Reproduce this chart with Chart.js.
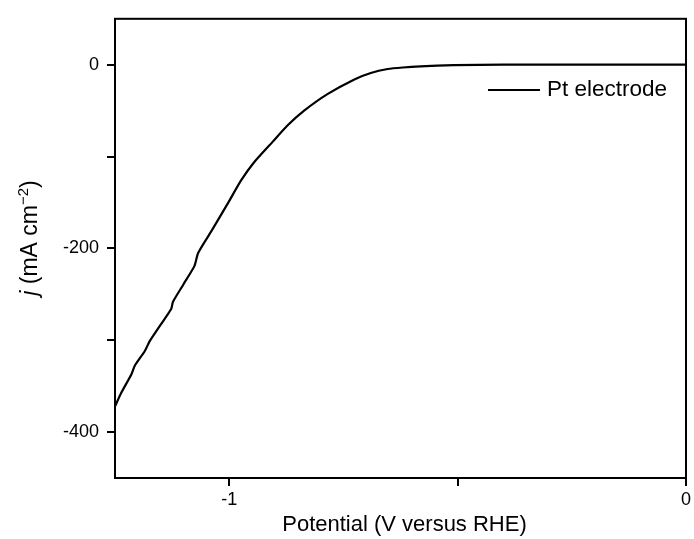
<!DOCTYPE html>
<html>
<head>
<meta charset="utf-8">
<script src="https://cdn.jsdelivr.net/npm/chart.js@4.4.1/dist/chart.umd.min.js"></script>
<style>
  html, body { margin: 0; padding: 0; background: #fff; }
  #wrap { width: 694px; height: 539px; }
</style>
</head>
<body>
<div id="wrap"><canvas id="lsvChart"></canvas></div>
<script>
// LSV curve (V versus RHE, mA cm-2)
const potential = [-1.25, -1.236, -1.214, -1.207, -1.185, -1.174, -1.15, -1.127, -1.123, -1.10, -1.076, -1.068,
  -1.04, -1.003, -0.974, -0.945, -0.905, -0.872, -0.836, -0.785, -0.726, -0.69, -0.653, -0.62, -0.581, -0.508,
  -0.4, -0.2, 0];
const currentDensity = [-372, -357, -337, -328, -312, -301, -283, -266, -258, -239, -219, -205,
  -182, -151, -126, -106, -84, -66, -50, -32, -16, -9, -4.7, -3, -1.8, -0.5,
  0, 0, 0];

const xTickValues = [-1, -0.5, 0];
const xTickLabels = ['-1', '', '0'];
const yTickValues = [-400, -300, -200, -100, 0];
const yTickLabels = ['-400', '', '-200', '', '0'];

const seriesName = 'Pt electrode';
const FONT = '"Liberation Sans", Arial, sans-serif';

const points = potential.map((v, i) => ({ x: v, y: currentDensity[i] }));

// frame, axis titles and legend
const decorations = {
  id: 'decorations',
  afterDraw(chart) {
    const { ctx, chartArea: a } = chart;
    ctx.save();
    ctx.strokeStyle = '#000';
    ctx.lineWidth = 2;
    ctx.strokeRect(a.left, a.top, a.right - a.left, a.bottom - a.top);

    ctx.fillStyle = '#000';
    // x title
    ctx.font = '22px ' + FONT;
    ctx.textAlign = 'center';
    ctx.textBaseline = 'middle';
    ctx.fillText('Potential (V versus RHE)', (a.left + a.right) / 2 + 4, 525);

    // y title: italic j, superscript -2
    ctx.translate(29, 238);
    ctx.rotate(-Math.PI / 2);
    ctx.textAlign = 'left';
    ctx.textBaseline = 'alphabetic';
    const parts = [
      { t: 'j', f: 'italic 23px ' + FONT, dy: 0 },
      { t: ' (mA cm', f: '23px ' + FONT, dy: 0 },
      { t: '\u22122', f: '15px ' + FONT, dy: -9 },
      { t: ')', f: '23px ' + FONT, dy: 0 }
    ];
    let total = 0;
    parts.forEach(p => { ctx.font = p.f; p.w = ctx.measureText(p.t).width; total += p.w; });
    let x = -total / 2;
    parts.forEach(p => { ctx.font = p.f; ctx.fillText(p.t, x, 8 + p.dy); x += p.w; });
    ctx.restore();

    // legend
    ctx.save();
    ctx.strokeStyle = '#000';
    ctx.lineWidth = 2;
    ctx.beginPath();
    ctx.moveTo(488, 90);
    ctx.lineTo(540, 90);
    ctx.stroke();
    ctx.fillStyle = '#000';
    ctx.font = '22.5px ' + FONT;
    ctx.textAlign = 'left';
    ctx.textBaseline = 'middle';
    ctx.fillText(seriesName, 547, 90);
    ctx.restore();
  }
};

new Chart(document.getElementById('lsvChart'), {
  type: 'scatter',
  data: {
    datasets: [{
      label: seriesName,
      data: points,
      showLine: true,
      borderColor: '#000',
      borderWidth: 2.2,
      pointRadius: 0,
      tension: 0.2,
      fill: false
    }]
  },
  options: {
    responsive: true,
    maintainAspectRatio: false,
    animation: false,
    layout: { padding: { top: 13, right: 8, left: 0, bottom: 0 } },
    plugins: { legend: { display: false }, tooltip: { enabled: false } },
    scales: {
      x: {
        type: 'linear',
        min: -1.25,
        max: 0,
        afterFit: s => { s.height = 61; },
        afterBuildTicks: s => { s.ticks = xTickValues.map(v => ({ value: v })); },
        ticks: {
          autoSkip: false,
          maxRotation: 0,
          padding: 3,
          color: '#000',
          font: { family: FONT, size: 18 },
          callback: (v, i) => xTickLabels[i]
        },
        grid: { drawOnChartArea: false, drawTicks: true, tickLength: 8, color: '#000', lineWidth: 2 },
        border: { display: true, color: '#000', width: 2 }
      },
      y: {
        type: 'linear',
        min: -450,
        max: 50,
        afterFit: s => { s.width = 115; },
        afterBuildTicks: s => { s.ticks = yTickValues.map(v => ({ value: v })); },
        ticks: {
          autoSkip: false,
          padding: 8,
          color: '#000',
          font: { family: FONT, size: 18 },
          callback: (v, i) => yTickLabels[i]
        },
        grid: { drawOnChartArea: false, drawTicks: true, tickLength: 8, color: '#000', lineWidth: 2 },
        border: { display: true, color: '#000', width: 2 }
      }
    }
  },
  plugins: [decorations]
});
</script>
</body>
</html>
